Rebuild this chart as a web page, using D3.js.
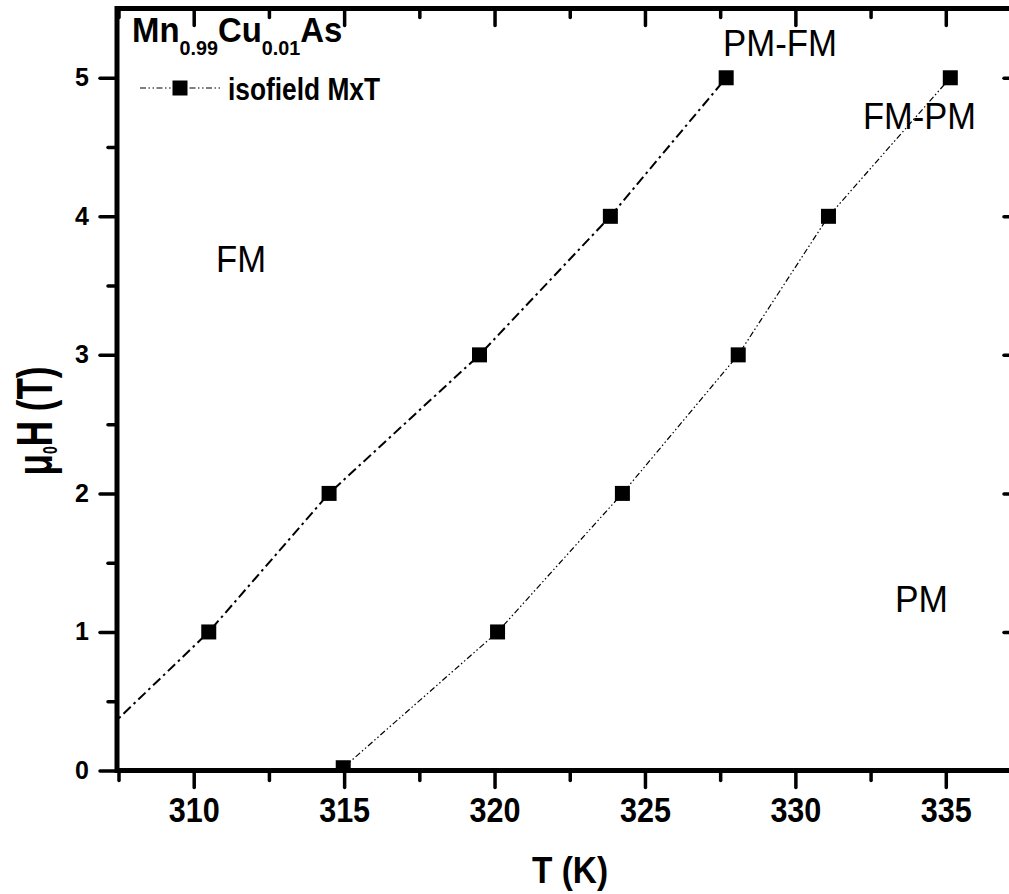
<!DOCTYPE html>
<html>
<head>
<meta charset="utf-8">
<script src="https://cdn.jsdelivr.net/npm/d3@7"></script>
<style>
  body { margin: 0; background: #fff; }
  svg { display: block; font-family: "Liberation Sans", Arial, sans-serif; }
</style>
</head>
<body>
<svg id="chart" width="1009" height="894"></svg>
<script>
// isofield M x T transitions, Mn0.99Cu0.01As
const tempUp = [305.7, 310.5, 314.5, 319.5, 323.85, 327.7];      // PM-FM branch
const fieldUp = [0, 1, 2, 3, 4, 5];
const tempDown = [314.97, 320.1, 324.25, 328.1, 331.1, 335.15];  // FM-PM branch
const fieldDown = [0.02, 1, 2, 3, 4, 5];

const xTicks = [310, 315, 320, 325, 330, 335];
const xMinor = [307.5, 312.5, 317.5, 322.5, 327.5, 332.5];
const yTicks = [0, 1, 2, 3, 4, 5];
const yMinor = [0.5, 1.5, 2.5, 3.5, 4.5];

const svg = d3.select('#chart');

const box = { left: 117, right: 1021, top: 8.5, bottom: 770.5 };

const x = d3.scaleLinear().domain([307.45, 337.5]).range([box.left, box.right]);
const y = d3.scaleLinear().domain([0, 5.5]).range([box.bottom, box.top]);

svg.append('defs').append('clipPath').attr('id', 'plot')
    .append('rect')
    .attr('x', box.left).attr('y', box.top)
    .attr('width', box.right - box.left).attr('height', box.bottom - box.top);

const plot = svg.append('g').attr('clip-path', 'url(#plot)');

const line = d3.line().x(d => x(d[0])).y(d => y(d[1]));

const up = tempUp.map((t, i) => [t, fieldUp[i]]);
const down = tempDown.map((t, i) => [t, fieldDown[i]]);

plot.append('path').datum(up)
    .attr('d', line)
    .attr('fill', 'none').attr('stroke', '#000')
    .attr('stroke-width', 2)
    .attr('stroke-dasharray', '10,4,2.5,4');

plot.append('path').datum(down)
    .attr('d', line)
    .attr('fill', 'none').attr('stroke', '#000')
    .attr('stroke-width', 1.2)
    .attr('stroke-dasharray', '6,2.5,1.5,2.5,1.5,2.5');

const sq = 15;
plot.selectAll('rect.up').data(up).join('rect')
    .attr('class', 'up')
    .attr('x', d => x(d[0]) - sq / 2).attr('y', d => y(d[1]) - sq / 2)
    .attr('width', sq).attr('height', sq).attr('fill', '#000');

plot.selectAll('rect.down').data(down).join('rect')
    .attr('class', 'down')
    .attr('x', d => x(d[0]) - sq / 2).attr('y', d => y(d[1]) - sq / 2)
    .attr('width', sq).attr('height', sq).attr('fill', '#000');

// axes
function styleTicks(g) {
    g.select('.domain').remove();
    g.selectAll('line').attr('stroke', '#000').attr('stroke-width', 3.5).attr('stroke-linecap', 'round');
}

const gb = svg.append('g').attr('transform', `translate(0,${box.bottom})`)
    .call(d3.axisBottom(x).tickValues(xTicks).tickSize(17).tickFormat(d3.format('d')))
    .call(styleTicks);
gb.selectAll('text')
    .attr('y', 51.5).attr('dy', null)
    .attr('font-size', 35).attr('font-weight', 'bold').attr('fill', '#000')
    .attr('textLength', 51).attr('lengthAdjust', 'spacingAndGlyphs')
    .attr('font-family', null);
svg.append('g').attr('transform', `translate(0,${box.bottom})`)
    .call(d3.axisBottom(x).tickValues(xMinor).tickSize(10).tickFormat(''))
    .call(styleTicks);

svg.append('g').attr('transform', `translate(0,${box.top})`)
    .call(d3.axisTop(x).tickValues(xTicks).tickSize(-17).tickFormat(''))
    .call(styleTicks);
svg.append('g').attr('transform', `translate(0,${box.top})`)
    .call(d3.axisTop(x).tickValues(xMinor).tickSize(-9).tickFormat(''))
    .call(styleTicks);

const gl = svg.append('g').attr('transform', `translate(${box.left},0)`)
    .call(d3.axisLeft(y).tickValues(yTicks).tickSize(17).tickFormat(d3.format('d')))
    .call(styleTicks);
gl.selectAll('text')
    .attr('x', -28).attr('y', 8).attr('dy', null)
    .attr('font-size', 25).attr('font-weight', 'bold').attr('fill', '#000')
    .attr('font-family', null);
svg.append('g').attr('transform', `translate(${box.left},0)`)
    .call(d3.axisLeft(y).tickValues(yMinor).tickSize(9).tickFormat(''))
    .call(styleTicks);

svg.append('g').attr('transform', `translate(${box.right},0)`)
    .call(d3.axisRight(y).tickValues(yTicks).tickSize(-17).tickFormat(''))
    .call(styleTicks);
svg.append('g').attr('transform', `translate(${box.right},0)`)
    .call(d3.axisRight(y).tickValues(yMinor).tickSize(-9).tickFormat(''))
    .call(styleTicks);

// frame
svg.append('rect')
    .attr('x', box.left).attr('y', box.top)
    .attr('width', box.right - box.left).attr('height', box.bottom - box.top)
    .attr('fill', 'none').attr('stroke', '#000').attr('stroke-width', 5);

// axis titles
svg.append('text')
    .attr('x', 532).attr('y', 883)
    .attr('font-size', 36).attr('font-weight', 'bold')
    .attr('textLength', 76).attr('lengthAdjust', 'spacingAndGlyphs')
    .text('T (K)');

const yl = svg.append('text')
    .attr('transform', 'translate(52,421) rotate(-90) scale(0.7,1)')
    .attr('text-anchor', 'middle')
    .attr('font-size', 50).attr('font-weight', 'bold');
yl.append('tspan').text('μ');
yl.append('tspan').attr('font-size', 20).attr('dy', 5).text('0');
yl.append('tspan').attr('dy', -5).text('H (T)');

// compound label
const title = svg.append('text')
    .attr('transform', 'translate(132,42) scale(0.94,1)')
    .attr('font-size', 35).attr('font-weight', 'bold');
title.append('tspan').text('Mn');
title.append('tspan').attr('font-size', 21).attr('dy', 13).text('0.99');
title.append('tspan').attr('dy', -13).text('Cu');
title.append('tspan').attr('font-size', 21).attr('dy', 13).text('0.01');
title.append('tspan').attr('dy', -13).text('As');

// legend
const lg = svg.append('g');
lg.append('line')
    .attr('x1', 140).attr('x2', 220).attr('y1', 88).attr('y2', 88)
    .attr('stroke', '#000').attr('stroke-width', 1.2)
    .attr('stroke-dasharray', '6,2.5,1.5,2.5,1.5,2.5');
lg.append('rect')
    .attr('x', 180 - sq / 2).attr('y', 88 - sq / 2)
    .attr('width', sq).attr('height', sq).attr('fill', '#000');
lg.append('text')
    .attr('x', 228).attr('y', 100)
    .attr('font-size', 31).attr('font-weight', 'bold')
    .attr('textLength', 152).attr('lengthAdjust', 'spacingAndGlyphs')
    .text('isofield MxT');

// region labels
const regions = [
    { text: 'PM-FM', x: 723, y: 56, w: 114 },
    { text: 'FM-PM', x: 863, y: 129, w: 113 },
    { text: 'FM', x: 216, y: 272, w: 50 },
    { text: 'PM', x: 895, y: 612, w: 53 }
];
svg.selectAll('text.region').data(regions).join('text')
    .attr('class', 'region')
    .attr('x', d => d.x).attr('y', d => d.y)
    .attr('font-size', 37)
    .attr('textLength', d => d.w).attr('lengthAdjust', 'spacingAndGlyphs')
    .text(d => d.text);
</script>
</body>
</html>
